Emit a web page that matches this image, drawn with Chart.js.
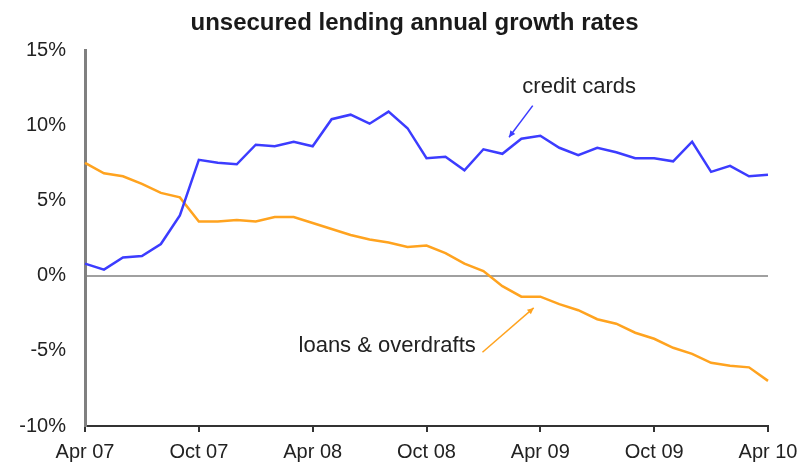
<!DOCTYPE html>
<html>
<head>
<meta charset="utf-8">
<title>unsecured lending annual growth rates</title>
<script src="https://cdn.jsdelivr.net/npm/chart.js@4.4.1/dist/chart.umd.min.js"></script>
<style>
    html, body { margin: 0; padding: 0; background: #fff; }
    #wrap { width: 801px; height: 469px; }
</style>
</head>
<body>
<div id="wrap"><canvas id="lendingChart" width="801" height="469"></canvas></div>
<script>
// monthly observations, Apr 07 to Apr 10
const months = [
    'Apr 07', 'May 07', 'Jun 07', 'Jul 07', 'Aug 07', 'Sep 07',
    'Oct 07', 'Nov 07', 'Dec 07', 'Jan 08', 'Feb 08', 'Mar 08',
    'Apr 08', 'May 08', 'Jun 08', 'Jul 08', 'Aug 08', 'Sep 08',
    'Oct 08', 'Nov 08', 'Dec 08', 'Jan 09', 'Feb 09', 'Mar 09',
    'Apr 09', 'May 09', 'Jun 09', 'Jul 09', 'Aug 09', 'Sep 09',
    'Oct 09', 'Nov 09', 'Dec 09', 'Jan 10', 'Feb 10', 'Mar 10',
    'Apr 10'
];

// annual growth, %
const creditCards = [
    0.8, 0.4, 1.2, 1.3, 2.1, 4.0,
    7.7, 7.5, 7.4, 8.7, 8.6, 8.9,
    8.6, 10.4, 10.7, 10.1, 10.9, 9.8,
    7.8, 7.9, 7.0, 8.4, 8.1, 9.1,
    9.3, 8.5, 8.0, 8.5, 8.2, 7.8,
    7.8, 7.6, 8.9, 6.9, 7.3, 6.6,
    6.7
];

const loansOverdrafts = [
    7.5, 6.8, 6.6, 6.1, 5.5, 5.2,
    3.6, 3.6, 3.7, 3.6, 3.9, 3.9,
    3.5, 3.1, 2.7, 2.4, 2.2, 1.9,
    2.0, 1.5, 0.8, 0.3, -0.7, -1.4,
    -1.4, -1.9, -2.3, -2.9, -3.2, -3.8,
    -4.2, -4.8, -5.2, -5.8, -6.0, -6.1,
    -7.0
];

const yTicks = [-10, -5, 0, 5, 10, 15];

const FONT = "'Liberation Sans', Arial, sans-serif";
const BLUE = '#3c3cff';
const ORANGE = '#ffa31f';

// line labels: text position and arrow tail/tip in (month index, %) terms
const callouts = [
    { text: 'credit cards', color: BLUE, align: 'center', at: [26.05, 12.55], from: [23.6, 11.3], to: [22.35, 9.2] },
    { text: 'loans & overdrafts', color: ORANGE, align: 'right', at: [20.6, -4.7], from: [20.95, -5.1], to: [23.65, -2.15] }
];

const calloutPlugin = {
    id: 'callouts',
    afterDatasetsDraw(chart) {
        const ctx = chart.ctx;
        const x = chart.scales.x;
        const y = chart.scales.y;
        ctx.save();

        // heading
        ctx.fillStyle = '#1a1a1a';
        ctx.font = 'bold 24px ' + FONT;
        ctx.textAlign = 'center';
        ctx.textBaseline = 'middle';
        ctx.fillText('unsecured lending annual growth rates', chart.width / 2 + 14, 23);

        callouts.forEach(c => {
            ctx.font = '22px ' + FONT;
            ctx.fillStyle = '#222';
            ctx.textAlign = c.align;
            ctx.textBaseline = 'middle';
            ctx.fillText(c.text, x.getPixelForValue(c.at[0]), y.getPixelForValue(c.at[1]));

            const x0 = x.getPixelForValue(c.from[0]);
            const y0 = y.getPixelForValue(c.from[1]);
            const x1 = x.getPixelForValue(c.to[0]);
            const y1 = y.getPixelForValue(c.to[1]);
            ctx.strokeStyle = c.color;
            ctx.fillStyle = c.color;
            ctx.lineWidth = 1.5;
            ctx.beginPath();
            ctx.moveTo(x0, y0);
            ctx.lineTo(x1, y1);
            ctx.stroke();

            // small arrow head
            const a = Math.atan2(y1 - y0, x1 - x0);
            ctx.beginPath();
            ctx.moveTo(x1, y1);
            ctx.lineTo(x1 - 7 * Math.cos(a - 0.45), y1 - 7 * Math.sin(a - 0.45));
            ctx.lineTo(x1 - 7 * Math.cos(a + 0.45), y1 - 7 * Math.sin(a + 0.45));
            ctx.closePath();
            ctx.fill();
        });
        ctx.restore();
    }
};

const ctx = document.getElementById('lendingChart').getContext('2d');
const lendingChart = new Chart(ctx, {
    type: 'line',
    data: {
        labels: months,
        datasets: [{
            label: 'credit cards',
            data: creditCards,
            borderColor: BLUE,
            borderWidth: 2.5,
            pointRadius: 0,
            tension: 0,
            fill: false
        }, {
            label: 'loans & overdrafts',
            data: loansOverdrafts,
            borderColor: ORANGE,
            borderWidth: 2.5,
            pointRadius: 0,
            tension: 0,
            fill: false
        }]
    },
    options: {
        responsive: false,
        animation: false,
        layout: {
            padding: { top: 50, right: 33, left: 0, bottom: 0 }
        },
        plugins: {
            legend: { display: false },
            title: { display: false },
            tooltip: { enabled: false }
        },
        scales: {
            x: {
                offset: false,
                grid: {
                    drawOnChartArea: false,
                    drawTicks: true,
                    tickLength: 6,
                    color: '#333',
                    lineWidth: 2
                },
                border: { display: true, color: '#333', width: 2 },
                ticks: {
                    autoSkip: false,
                    maxRotation: 0,
                    padding: 8,
                    color: '#222',
                    font: { family: FONT, size: 20 },
                    callback: function(value, index) {
                        return index % 6 === 0 ? months[index] : null;
                    }
                },
                afterFit: function(scale) {
                    scale.height = 43;
                    // let the end labels hang past the plot edges
                    scale.paddingLeft = 0;
                    scale.paddingRight = 0;
                }
            },
            y: {
                min: yTicks[0],
                max: yTicks[yTicks.length - 1],
                afterBuildTicks: function(scale) {
                    scale.ticks = yTicks.map(v => ({ value: v }));
                },
                grid: {
                    drawTicks: false,
                    color: c => (c.tick && c.tick.value === 0 ? '#a0a0a0' : 'rgba(0,0,0,0)'),
                    lineWidth: 2
                },
                border: { display: true, color: '#808080', width: 3 },
                ticks: {
                    padding: 19,
                    color: '#222',
                    font: { family: FONT, size: 20 },
                    callback: v => v + '%'
                },
                afterFit: function(scale) { scale.width = 85; }
            }
        }
    },
    plugins: [calloutPlugin]
});
</script>
</body>
</html>
